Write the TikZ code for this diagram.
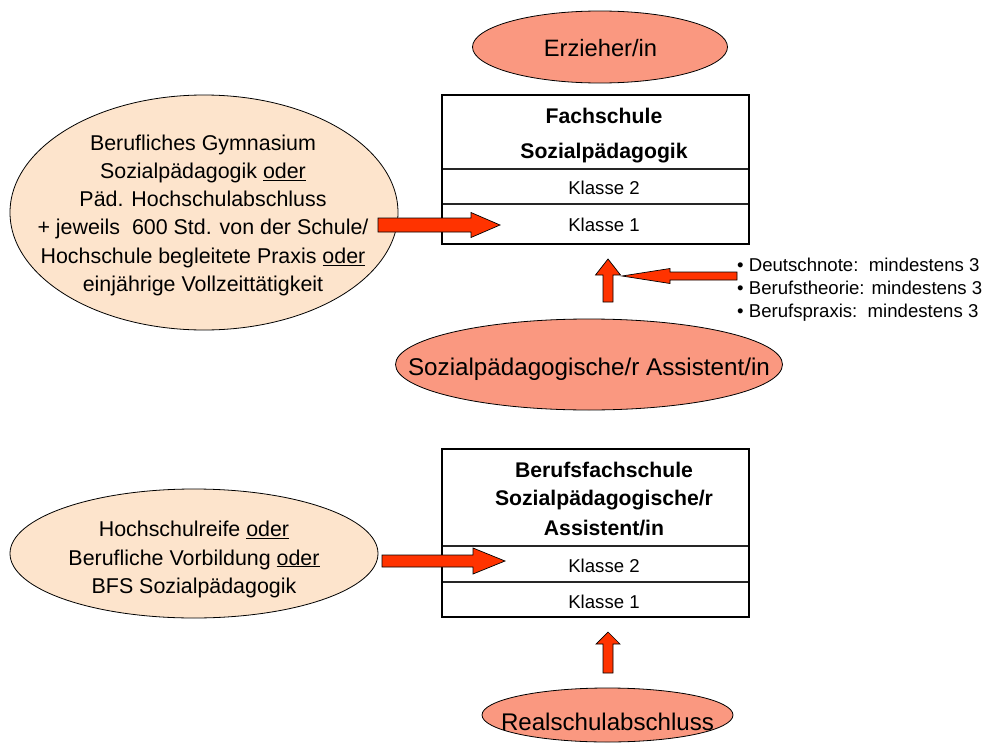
\documentclass[tikz,border=0pt]{standalone}
\usepackage{fontspec}
\setmainfont{Liberation Sans}
\usetikzlibrary{calc,shapes.geometric}
\definecolor{salmon}{RGB}{250,152,128}
\definecolor{peach}{RGB}{253,228,204}
\definecolor{arrowred}{RGB}{255,51,0}
\tikzset{
  ellbox/.style={ellipse, draw=black, line width=0.8pt, inner sep=0pt},
  salmonell/.style={ellbox, fill=salmon},
  peachell/.style={ellbox, fill=peach},
  blockarrow/.style={fill=arrowred, draw=black, line width=0.7pt, line join=miter},
  tabouter/.style={draw=black, line width=2.6pt},
  tabinner/.style={draw=black!85, line width=1.2pt},
  lbl/.style={anchor=base, inner sep=0pt},
  big/.style={lbl, font=\fontsize{24}{28}\selectfont},
  mid/.style={lbl, font=\fontsize{21.4}{28}\selectfont},
  midb/.style={lbl, font=\fontsize{21.2}{28}\selectfont\bfseries},
  small/.style={lbl, font=\fontsize{18.6}{22}\selectfont},
  bullet/.style={anchor=base west, inner sep=0pt, font=\fontsize{18.6}{22}\selectfont},
}
\newcommand\blockarrow[5]{%
  \coordinate (bah) at ($(#2)!#5!(#1)$);
  \filldraw[blockarrow] ($(#1)!#3!90:(#2)$) -- ($(bah)!#3!90:(#2)$) -- ($(bah)!#4!90:(#2)$) -- (#2) -- ($(bah)!#4!-90:(#2)$) -- ($(bah)!#3!-90:(#2)$) -- ($(#1)!#3!-90:(#2)$) -- cycle;}
\begin{document}
\begin{tikzpicture}[x=1pt,y=-1pt]
\useasboundingbox (0,0) rectangle (983,744);

% ---------- upper part ----------
\node[salmonell, minimum width=255pt, minimum height=72pt] (erz) at (600,47) {};
\node[big, font=\fontsize{23.7}{28}\selectfont] (erzt) at (600.5,56.7) {Erzieher/in};

\node[peachell, minimum width=388pt, minimum height=235pt] (bg) at (204,212.5) {};
\node[mid] (bg1) at (203,150) {Berufliches Gymnasium};
\node[mid] (bg2) at (203,178.3) {Sozialpädagogik \underline{oder}};
\node[mid] (bg3) at (203,206.6) {Päd. Hochschulabschluss};
\node[mid] (bg4) at (203,234.9) {+ jeweils\ \ 600 Std. von der Schule/};
\node[mid] (bg5) at (203,263.2) {Hochschule begleitete Praxis \underline{oder}};
\node[mid] (bg6) at (203,291.5) {einjährige Vollzeittätigkeit};

% table Fachschule
\coordinate (fs-nw) at (442,95);
\coordinate (fs-se) at (749,244);
\draw[tabinner] (442,169) coordinate (fs-l1) -- (749,169) coordinate (fs-r1);
\draw[tabinner] (442,204) coordinate (fs-l2) -- (749,204) coordinate (fs-r2);
\draw[tabouter] (fs-nw) rectangle (fs-se);
\node[midb] (fs1) at (604,123.3) {Fachschule};
\node[midb] (fs2) at (604,158.3) {Sozialpädagogik};
\node[small] (fsk2) at (604,194.3) {Klasse 2};
\node[small] (fsk1) at (604,231.7) {Klasse 1};

% arrows upper
\coordinate (a1s) at (378,225);
\coordinate (a1t) at (500,225);
\blockarrow{a1s}{a1t}{7pt}{12.5pt}{29pt}

\coordinate (a2s) at (737,276);
\coordinate (a2t) at (622,276);
\blockarrow{a2s}{a2t}{4pt}{7.5pt}{48pt}

\coordinate (a3s) at (608,302);
\coordinate (a3t) at (608,259);
\blockarrow{a3s}{a3t}{5pt}{12.5pt}{16pt}

\node[bullet] (b1) at (737,271.7) {• Deutschnote:\ \ mindestens 3};
\node[bullet] (b2) at (737,294.5) {• Berufstheorie: mindestens 3};
\node[bullet] (b3) at (737,317) {• Berufspraxis:\ \ mindestens 3};

\node[salmonell, minimum width=387pt, minimum height=91pt] (spa) at (589,364.5) {};
\node[big, font=\fontsize{24.2}{28}\selectfont] (spat) at (589,375) {Sozialpädagogische/r Assistent/in};

% ---------- lower part ----------
\node[peachell, minimum width=368pt, minimum height=129pt] (hr) at (194,553.5) {};
\node[mid] (hr1) at (194,536.7) {Hochschulreife \underline{oder}};
\node[mid] (hr2) at (194,565) {Berufliche Vorbildung \underline{oder}};
\node[mid] (hr3) at (194,593.3) {BFS Sozialpädagogik};

\coordinate (bf-nw) at (442,449);
\coordinate (bf-se) at (749,617);
\draw[tabinner] (442,546) coordinate (bf-l1) -- (749,546) coordinate (bf-r1);
\draw[tabinner] (442,582) coordinate (bf-l2) -- (749,582) coordinate (bf-r2);
\draw[tabouter] (bf-nw) rectangle (bf-se);
\node[midb] (bf1) at (604,477) {Berufsfachschule};
\node[midb] (bf2) at (604,505.3) {Sozialpädagogische/r};
\node[midb] (bf3) at (604,535) {Assistent/in};
\node[small] (bfk2) at (604,572.7) {Klasse 2};
\node[small] (bfk1) at (604,608.3) {Klasse 1};

\coordinate (a4s) at (382,561);
\coordinate (a4t) at (505,561);
\blockarrow{a4s}{a4t}{6pt}{13pt}{32pt}

\coordinate (a5s) at (608,673);
\coordinate (a5t) at (608,632);
\blockarrow{a5s}{a5t}{5pt}{12pt}{12pt}

\node[salmonell, minimum width=251pt, minimum height=54pt] (rs) at (607.5,715) {};
\node[big, font=\fontsize{24.1}{28}\selectfont] (rst) at (607.5,730) {Realschulabschluss};
\end{tikzpicture}
\end{document}
